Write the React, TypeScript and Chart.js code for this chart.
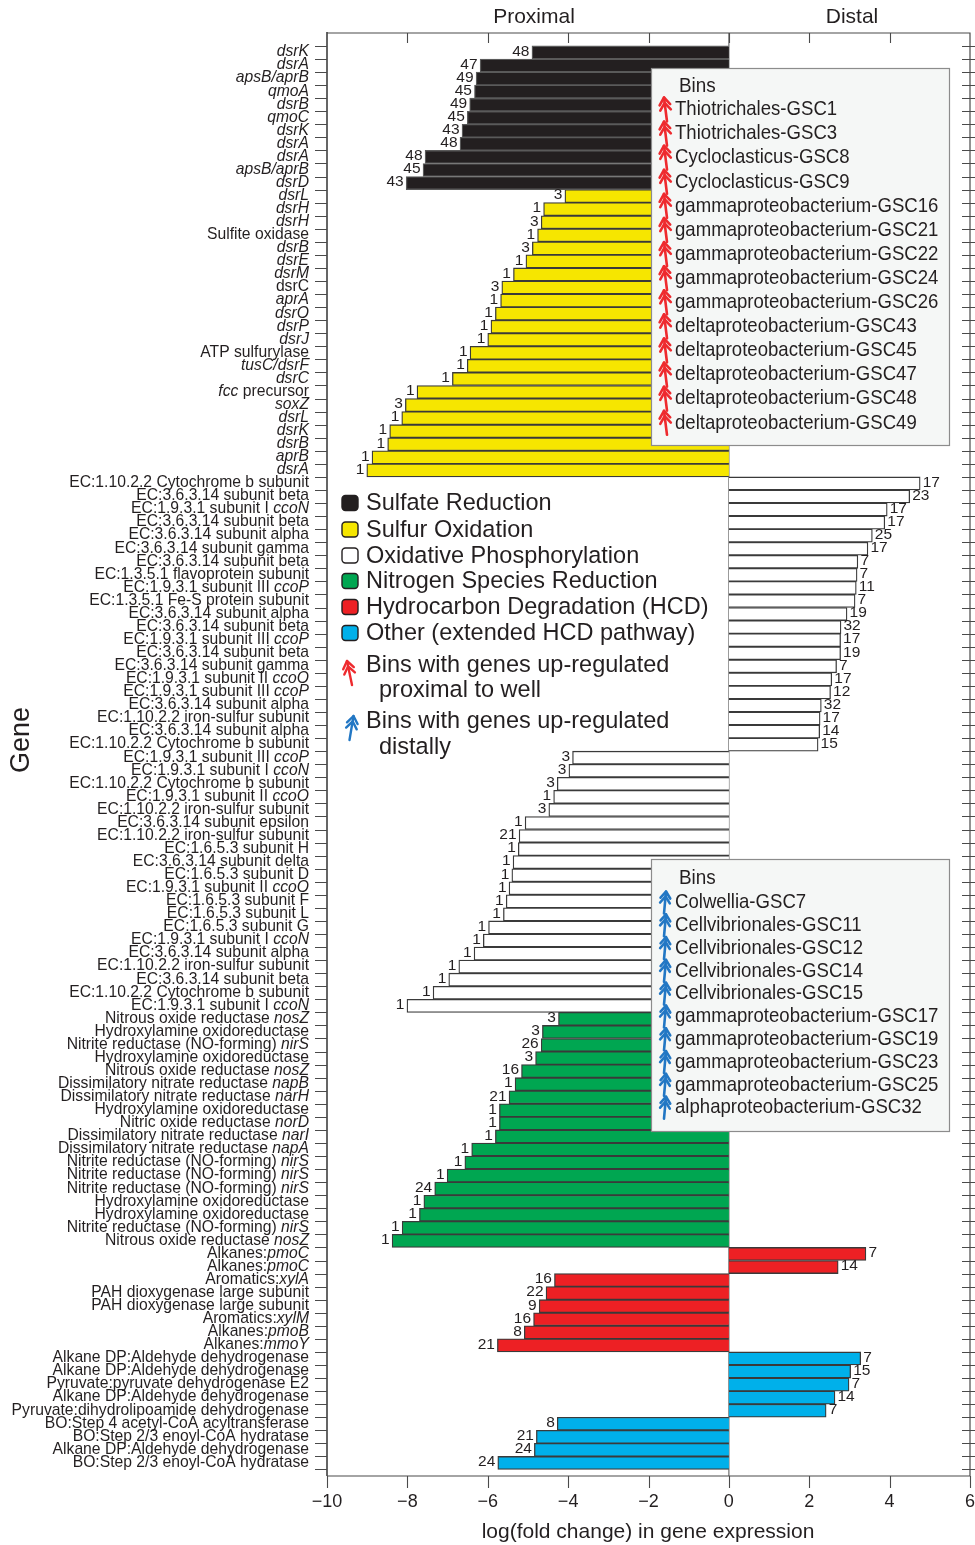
import React, { useEffect, useRef } from "react";
import { Chart, registerables } from "chart.js";

Chart.register(...registerables);

const FONT = "'Liberation Sans', Arial, Helvetica, sans-serif";
const TEXT = "#231f20";

// ---------- Data (italic parts of gene names are wrapped in *...*) ----------
const sulfateGenes = ["*dsrK*", "*dsrA*", "*apsB/aprB*", "*qmoA*", "*dsrB*", "*qmoC*", "*dsrK*", "*dsrA*", "*dsrA*", "*apsB/aprB*", "*dsrD*"];
const sulfateValues = [-4.9, -6.19, -6.29, -6.33, -6.45, -6.51, -6.64, -6.69, -7.56, -7.61, -8.03];
const sulfateBins = [48, 47, 49, 45, 49, 45, 43, 48, 48, 45, 43];

const sulfurGenes = ["*dsrL*", "*dsrH*", "*dsrH*", "Sulfite oxidase", "*dsrB*", "*dsrE*", "*dsrM*", "dsrC", "*aprA*", "*dsrO*", "*dsrP*", "*dsrJ*", "ATP sulfurylase", "*tusC/dsrF*", "*dsrC*", "*fcc* precursor", "*soxZ*", "*dsrL*", "*dsrK*", "*dsrB*", "*aprB*", "*dsrA*"];
const sulfurValues = [-4.08, -4.61, -4.67, -4.76, -4.89, -5.05, -5.36, -5.65, -5.68, -5.81, -5.92, -6.0, -6.44, -6.51, -6.88, -7.76, -8.05, -8.14, -8.44, -8.49, -8.88, -9.01];
const sulfurBins = [3, 1, 3, 1, 3, 1, 1, 3, 1, 1, 1, 1, 1, 1, 1, 1, 3, 1, 1, 1, 1, 1];

const oxphosGenes = [
  "EC:1.10.2.2 Cytochrome b subunit", "EC:3.6.3.14 subunit beta", "EC:1.9.3.1 subunit I *ccoN*", "EC:3.6.3.14 subunit beta",
  "EC:3.6.3.14 subunit alpha", "EC:3.6.3.14 subunit gamma", "EC:3.6.3.14 subunit beta", "EC:1.3.5.1 flavoprotein subunit",
  "EC:1.9.3.1 subunit III *ccoP*", "EC:1.3.5.1 Fe-S protein subunit", "EC:3.6.3.14 subunit alpha", "EC:3.6.3.14 subunit beta",
  "EC:1.9.3.1 subunit III *ccoP*", "EC:3.6.3.14 subunit beta", "EC:3.6.3.14 subunit gamma", "EC:1.9.3.1 subunit II *ccoO*",
  "EC:1.9.3.1 subunit III *ccoP*", "EC:3.6.3.14 subunit alpha", "EC:1.10.2.2 iron-sulfur subunit", "EC:3.6.3.14 subunit alpha",
  "EC:1.10.2.2 Cytochrome b subunit", "EC:1.9.3.1 subunit III *ccoP*", "EC:1.9.3.1 subunit I *ccoN*", "EC:1.10.2.2 Cytochrome b subunit",
  "EC:1.9.3.1 subunit II *ccoO*", "EC:1.10.2.2 iron-sulfur subunit", "EC:3.6.3.14 subunit epsilon", "EC:1.10.2.2 iron-sulfur subunit",
  "EC:1.6.5.3 subunit H", "EC:3.6.3.14 subunit delta", "EC:1.6.5.3 subunit D", "EC:1.9.3.1 subunit II *ccoO*",
  "EC:1.6.5.3 subunit F", "EC:1.6.5.3 subunit L", "EC:1.6.5.3 subunit G", "EC:1.9.3.1 subunit I *ccoN*",
  "EC:3.6.3.14 subunit alpha", "EC:1.10.2.2 iron-sulfur subunit", "EC:3.6.3.14 subunit beta", "EC:1.10.2.2 Cytochrome b subunit",
  "EC:1.9.3.1 subunit I *ccoN*",
];
const oxphosValues = [
  4.76, 4.5, 3.94, 3.88, 3.57, 3.46, 3.21, 3.19, 3.17, 3.14, 2.94, 2.79, 2.78, 2.78, 2.68, 2.56, 2.53, 2.3, 2.27, 2.26, 2.22,
  -3.89, -3.98, -4.27, -4.36, -4.48, -5.07, -5.22, -5.24, -5.37, -5.4, -5.47, -5.54, -5.61, -5.98, -6.11, -6.34, -6.72, -6.97, -7.36, -8.01,
];
const oxphosBins = [
  17, 23, 17, 17, 25, 17, 7, 7, 11, 7, 19, 32, 17, 19, 7, 17, 12, 32, 17, 14, 15,
  3, 3, 3, 1, 3, 1, 21, 1, 1, 1, 1, 1, 1, 1, 1, 1, 1, 1, 1, 1,
];

const nitrogenGenes = [
  "Nitrous oxide reductase *nosZ*", "Hydroxylamine oxidoreductase", "Nitrite reductase (NO-forming) *nirS*", "Hydroxylamine oxidoreductase",
  "Nitrous oxide reductase *nosZ*", "Dissimilatory nitrate reductase *napB*", "Dissimilatory nitrate reductase *narH*", "Hydroxylamine oxidoreductase",
  "Nitric oxide reductase *norD*", "Dissimilatory nitrate reductase *narI*", "Dissimilatory nitrate reductase *napA*", "Nitrite reductase (NO-forming) *nirS*",
  "Nitrite reductase (NO-forming) *nirS*", "Nitrite reductase (NO-forming) *nirS*", "Hydroxylamine oxidoreductase", "Hydroxylamine oxidoreductase",
  "Nitrite reductase (NO-forming) *nirS*", "Nitrous oxide reductase *nosZ*",
];
const nitrogenValues = [-4.24, -4.64, -4.67, -4.81, -5.16, -5.32, -5.47, -5.71, -5.71, -5.81, -6.4, -6.57, -7.01, -7.32, -7.59, -7.7, -8.13, -8.38];
const nitrogenBins = [3, 3, 26, 3, 16, 1, 21, 1, 1, 1, 1, 1, 1, 24, 1, 1, 1, 1];

const hcdGenes = ["Alkanes:*pmoC*", "Alkanes:*pmoC*", "Aromatics:*xylA*", "PAH dioxygenase large subunit", "PAH dioxygenase large subunit", "Aromatics:*xylM*", "Alkanes:*pmoB*", "Alkanes:*mmoY*"];
const hcdValues = [3.41, 2.72, -4.34, -4.55, -4.72, -4.86, -5.09, -5.76];
const hcdBins = [7, 14, 16, 22, 9, 16, 8, 21];

const otherGenes = [
  "Alkane DP:Aldehyde dehydrogenase", "Alkane DP:Aldehyde dehydrogenase", "Pyruvate:pyruvate dehydrogenase E2", "Alkane DP:Aldehyde dehydrogenase",
  "Pyruvate:dihydrolipoamide dehydrogenase", "BO:Step 4 acetyl-CoA acyltransferase", "BO:Step 2/3 enoyl-CoA hydratase", "Alkane DP:Aldehyde dehydrogenase",
  "BO:Step 2/3 enoyl-CoA hydratase",
];
const otherValues = [3.28, 3.03, 2.99, 2.64, 2.42, -4.27, -4.79, -4.84, -5.75];
const otherBins = [7, 15, 7, 14, 7, 8, 21, 24, 24];

const categoryNames = ["Sulfate Reduction", "Sulfur Oxidation", "Oxidative Phosphorylation", "Nitrogen Species Reduction", "Hydrocarbon Degradation (HCD)", "Other (extended HCD pathway)"];
const categoryColors = ["#231f20", "#f6e600", "#ffffff", "#00a651", "#ed2024", "#00b0ea"];

const proximalBins = [
  "Thiotrichales-GSC1", "Thiotrichales-GSC3", "Cycloclasticus-GSC8", "Cycloclasticus-GSC9", "gammaproteobacterium-GSC16",
  "gammaproteobacterium-GSC21", "gammaproteobacterium-GSC22", "gammaproteobacterium-GSC24", "gammaproteobacterium-GSC26",
  "deltaproteobacterium-GSC43", "deltaproteobacterium-GSC45", "deltaproteobacterium-GSC47", "deltaproteobacterium-GSC48", "deltaproteobacterium-GSC49",
];
const distalBins = [
  "Colwellia-GSC7", "Cellvibrionales-GSC11", "Cellvibrionales-GSC12", "Cellvibrionales-GSC14", "Cellvibrionales-GSC15",
  "gammaproteobacterium-GSC17", "gammaproteobacterium-GSC19", "gammaproteobacterium-GSC23", "gammaproteobacterium-GSC25", "alphaproteobacterium-GSC32",
];

const xTicks = [-10, -8, -6, -4, -2, 0, 2, 4, 6];

// ---------- build tables ----------
const groupGenes = [sulfateGenes, sulfurGenes, oxphosGenes, nitrogenGenes, hcdGenes, otherGenes];
const groupValues = [sulfateValues, sulfurValues, oxphosValues, nitrogenValues, hcdValues, otherValues];
const groupBins = [sulfateBins, sulfurBins, oxphosBins, nitrogenBins, hcdBins, otherBins];

const allGenes: string[] = [];
const allValues: number[] = [];
const allBins: number[] = [];
const datasets: any[] = [];
groupGenes.forEach((genes, g) => {
  const pts: { x: number; y: number }[] = [];
  genes.forEach((name, k) => {
    const idx = allGenes.length;
    allGenes.push(name);
    allValues.push(groupValues[g][k]);
    allBins.push(groupBins[g][k]);
    pts.push({ x: groupValues[g][k], y: idx });
  });
  datasets.push({
    label: categoryNames[g],
    data: pts,
    backgroundColor: categoryColors[g],
    borderColor: g === 0 ? "#5a5a5a" : "#3a3a3a",
    borderWidth: 1.3,
    grouped: false,
    barPercentage: 1,
    categoryPercentage: 1,
  });
});

// ---------- drawing helpers ----------
function drawMixed(ctx: CanvasRenderingContext2D, s: string, xRight: number, y: number, size: number) {
  const parts = s.split("*");
  const fonts = parts.map((_, i) => (i % 2 === 1 ? `italic ${size}px ${FONT}` : `${size}px ${FONT}`));
  let total = 0;
  const widths = parts.map((p, i) => {
    ctx.font = fonts[i];
    const w = ctx.measureText(p).width;
    total += w;
    return w;
  });
  let x = xRight - total;
  ctx.textAlign = "left";
  parts.forEach((p, i) => {
    ctx.font = fonts[i];
    ctx.fillText(p, x, y);
    x += widths[i];
  });
}

function scaledText(ctx: CanvasRenderingContext2D, s: string, x: number, y: number, size: number, sx: number) {
  ctx.save();
  ctx.translate(x, y);
  ctx.scale(sx, 1);
  ctx.font = `${size}px ${FONT}`;
  ctx.textAlign = "left";
  ctx.textBaseline = "middle";
  ctx.fillText(s, 0, 0);
  ctx.restore();
}

function drawArrow(ctx: CanvasRenderingContext2D, xb: number, yb: number, xt: number, yt: number, color: string, lw: number) {
  ctx.save();
  ctx.strokeStyle = color;
  ctx.lineWidth = lw;
  ctx.lineCap = "round";
  ctx.lineJoin = "round";
  const dx = xt - xb, dy = yt - yb;
  const len = Math.hypot(dx, dy);
  const ux = dx / len, uy = dy / len;
  const px = -uy, py = ux;
  ctx.beginPath();
  ctx.moveTo(xb, yb);
  ctx.lineTo(xt, yt);
  ctx.stroke();
  const hl = len * 0.3, hw = len * 0.22;
  for (const off of [0, len * 0.22]) {
    const tx = xt - ux * off, ty = yt - uy * off;
    ctx.beginPath();
    ctx.moveTo(tx - ux * hl + px * hw, ty - uy * hl + py * hw);
    ctx.lineTo(tx, ty);
    ctx.lineTo(tx - ux * hl - px * hw, ty - uy * hl - py * hw);
    ctx.stroke();
  }
  ctx.restore();
}

const decorPlugin = {
  id: "decor",
  beforeDatasetsDraw(chart: any) {
    const { ctx, chartArea: a, scales } = chart;
    const x0 = scales.x.getPixelForValue(0);
    ctx.save();
    ctx.strokeStyle = "#6d6d6d";
    ctx.lineWidth = 1.2;
    ctx.beginPath();
    ctx.moveTo(x0, a.top);
    ctx.lineTo(x0, a.bottom);
    ctx.stroke();
    ctx.restore();
  },
  afterDatasetsDraw(chart: any) {
    const { ctx, chartArea: a, scales } = chart;
    const xs = scales.x, ys = scales.y;
    ctx.save();
    ctx.fillStyle = TEXT;

    // value labels (bin counts)
    ctx.font = `15.5px ${FONT}`;
    ctx.textBaseline = "middle";
    allValues.forEach((v, i) => {
      const px = xs.getPixelForValue(v);
      const py = ys.getPixelForValue(i) - 1;
      if (v < 0) {
        ctx.textAlign = "right";
        ctx.fillText(String(allBins[i]), px - 2.5, py);
      } else {
        ctx.textAlign = "left";
        ctx.fillText(String(allBins[i]), px + 2.5, py);
      }
    });

    // gene labels
    ctx.textBaseline = "middle";
    allGenes.forEach((g, i) => {
      drawMixed(ctx, g, a.left - 18, ys.getPixelForValue(i) - 0.5, 15.7);
    });

    // frame
    ctx.strokeStyle = "#4a4a4a";
    ctx.lineWidth = 1.2;
    ctx.beginPath();
    ctx.moveTo(a.left, a.top);
    ctx.lineTo(a.right, a.top);
    ctx.lineTo(a.right, a.bottom);
    ctx.lineTo(a.left, a.bottom);
    ctx.stroke();
    ctx.lineWidth = 1.7;
    ctx.beginPath();
    ctx.moveTo(a.left, a.top - 1);
    ctx.lineTo(a.left, a.bottom);
    ctx.stroke();

    // category boundary ticks, left and right
    ctx.lineWidth = 1.1;
    ctx.beginPath();
    for (let i = 0; i <= allGenes.length; i++) {
      const py = Math.round(ys.getPixelForValue(i - 0.5)) + 0.5;
      ctx.moveTo(a.left - 12, py);
      ctx.lineTo(a.left, py);
      ctx.moveTo(a.right - 8, py);
      ctx.lineTo(a.right + 7, py);
    }
    ctx.stroke();

    // x ticks top/bottom
    ctx.beginPath();
    xTicks.forEach((t) => {
      const px = Math.round(xs.getPixelForValue(t)) + 0.5;
      ctx.moveTo(px, a.bottom);
      ctx.lineTo(px, a.bottom + 12);
      if (t > -10 && t < 6) {
        ctx.moveTo(px, a.top);
        ctx.lineTo(px, a.top + 10);
      }
    });
    ctx.stroke();

    ctx.font = `18px ${FONT}`;
    ctx.textAlign = "center";
    ctx.textBaseline = "middle";
    xTicks.forEach((t) => {
      const lab = t < 0 ? "\u2212" + Math.abs(t) : String(t);
      ctx.fillText(lab, xs.getPixelForValue(t), a.bottom + 26);
    });
    ctx.font = `21px ${FONT}`;
    ctx.fillText("log(fold change) in gene expression", 648, 1532);
    ctx.fillText("Proximal", 534, 17);
    ctx.fillText("Distal", 852, 17);

    ctx.save();
    ctx.translate(22, 740);
    ctx.rotate(-Math.PI / 2);
    ctx.font = `27px ${FONT}`;
    ctx.fillText("Gene", 0, 0);
    ctx.restore();

    // category legend
    const legY = [503, 529.5, 555.5, 581, 607, 633];
    categoryNames.forEach((n, i) => {
      const y = legY[i];
      ctx.beginPath();
      (ctx as any).roundRect(342, y - 7.5, 16, 15, 3.5);
      ctx.fillStyle = categoryColors[i];
      ctx.fill();
      ctx.strokeStyle = "#231f20";
      ctx.lineWidth = 1.4;
      ctx.stroke();
      ctx.fillStyle = TEXT;
      scaledText(ctx, n, 366, y + 0.5, 24.5, 0.96);
    });
    drawArrow(ctx, 352, 685, 347, 661, "#ee2a2e", 2.4);
    scaledText(ctx, "Bins with genes up-regulated", 366, 665, 24.5, 0.96);
    scaledText(ctx, "proximal to well", 379, 690, 24.5, 0.96);
    drawArrow(ctx, 349.5, 740, 353.5, 716, "#2277c4", 2.4);
    scaledText(ctx, "Bins with genes up-regulated", 366, 721, 24.5, 0.96);
    scaledText(ctx, "distally", 379, 747, 24.5, 0.96);

    // bins boxes
    const box = (x1: number, y1: number, x2: number, y2: number) => {
      ctx.fillStyle = "#f5f7f6";
      ctx.fillRect(x1, y1, x2 - x1, y2 - y1);
      ctx.strokeStyle = "#8c8c8c";
      ctx.lineWidth = 1.2;
      ctx.strokeRect(x1 + 0.5, y1 + 0.5, x2 - x1, y2 - y1);
      ctx.fillStyle = TEXT;
    };
    box(651, 68, 949, 445);
    scaledText(ctx, "Bins", 679, 86.5, 21, 0.9);
    proximalBins.forEach((b, i) => {
      const y = 109.5 + i * 24.1;
      drawArrow(ctx, 667, y + 12, 664, y - 12, "#ee2a2e", 2.6);
      ctx.fillStyle = TEXT;
      scaledText(ctx, b, 675, y, 21, 0.885);
    });
    box(651, 859, 949, 1131);
    scaledText(ctx, "Bins", 679, 878, 21, 0.9);
    distalBins.forEach((b, i) => {
      const y = 902.5 + i * 22.8;
      drawArrow(ctx, 664, y + 11, 666, y - 11, "#2277c4", 2.6);
      ctx.fillStyle = TEXT;
      scaledText(ctx, b, 675, y, 21, 0.885);
    });

    ctx.restore();
  },
};

export default function App() {
  const ref = useRef<HTMLCanvasElement | null>(null);
  useEffect(() => {
    if (!ref.current) return;
    const chart = new Chart(ref.current, {
      type: "bar",
      data: { datasets },
      options: {
        indexAxis: "y",
        animation: false,
        responsive: false,
        devicePixelRatio: 1,
        layout: { padding: { left: 327, top: 33, right: 5, bottom: 69 } },
        scales: {
          x: { type: "linear", min: -10, max: 6, display: false },
          y: { type: "linear", min: -1.49, max: 109.0, reverse: true, offset: false, display: false },
        },
        plugins: { legend: { display: false }, tooltip: { enabled: false } },
      },
      plugins: [decorPlugin],
    } as any);
    return () => chart.destroy();
  }, []);
  return (
    <div style={{ position: "absolute", left: 0, top: 0, width: 975, height: 1545, background: "#fff" }}>
      <canvas ref={ref} width={975} height={1545} style={{ display: "block" }} />
    </div>
  );
}
